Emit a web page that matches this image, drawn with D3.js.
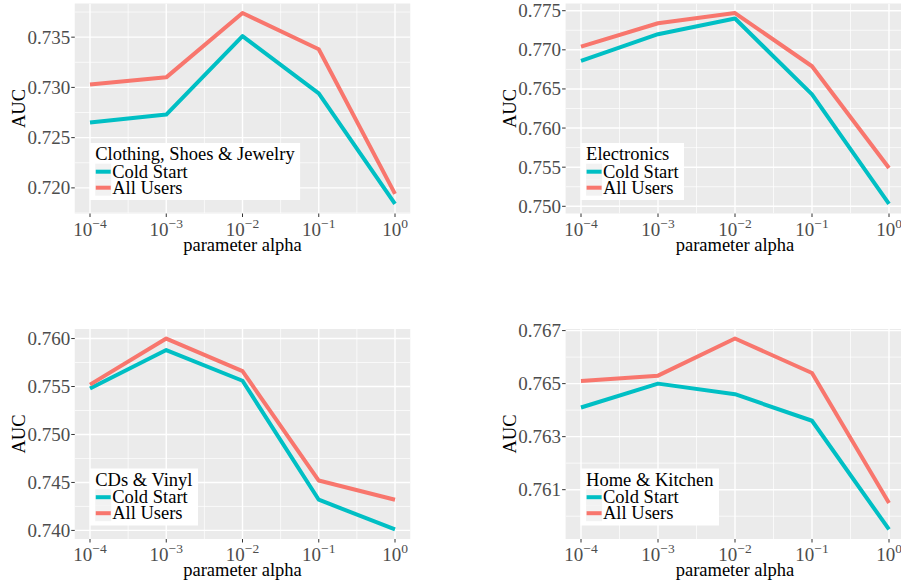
<!DOCTYPE html>
<html><head><meta charset="utf-8">
<script src="https://cdn.jsdelivr.net/npm/d3@7"></script>
<style>
body{margin:0;background:#fff}
svg{display:block}
text{font-family:"Liberation Serif","Times New Roman",serif}
</style></head><body>
<svg id="chart" width="901" height="586"></svg>
<script>
// Regularisation strength alpha (log scale) and its exponents for tick labels
const alphaValues = [1e-4, 1e-3, 1e-2, 1e-1, 1];
const alphaExponents = ["\u22124", "\u22123", "\u22122", "\u22121", "0"];

const seriesNames = ["Cold Start", "All Users"];
const seriesColors = ["#00BFC4", "#F8766D"];

const categories = ["Clothing, Shoes & Jewelry", "Electronics", "CDs & Vinyl", "Home & Kitchen"];

// AUC per category
const clothingCold = [0.7265, 0.7273, 0.7351, 0.7294, 0.7184];
const clothingAll  = [0.7303, 0.7310, 0.7374, 0.7338, 0.7194];
const electronicsCold = [0.7686, 0.7720, 0.7740, 0.7643, 0.7503];
const electronicsAll  = [0.7704, 0.7734, 0.7747, 0.7679, 0.7549];
const cdsCold = [0.7548, 0.7588, 0.7556, 0.7432, 0.7401];
const cdsAll  = [0.7552, 0.7600, 0.7566, 0.7452, 0.7432];
const homeCold = [0.7641, 0.7650, 0.7646, 0.7636, 0.7595];
const homeAll  = [0.7651, 0.7653, 0.7667, 0.7654, 0.7605];

// y-axis tick labels per category
const clothingTicks = [0.720, 0.725, 0.730, 0.735];
const electronicsTicks = [0.750, 0.755, 0.760, 0.765, 0.770, 0.775];
const cdsTicks = [0.740, 0.745, 0.750, 0.755, 0.760];
const homeTicks = [0.761, 0.763, 0.765, 0.767];

const panelData = [
  { title: categories[0], series: [clothingCold, clothingAll], ticks: clothingTicks },
  { title: categories[1], series: [electronicsCold, electronicsAll], ticks: electronicsTicks },
  { title: categories[2], series: [cdsCold, cdsAll], ticks: cdsTicks },
  { title: categories[3], series: [homeCold, homeAll], ticks: homeTicks }
];

// plotting-area frames for the 2x2 grid
const frames = [
  { x0: 74.75, x1: 410.25, y0: 3.5, y1: 213.5 },
  { x0: 565.6, x1: 904.4, y0: 3.5, y1: 213.5 },
  { x0: 74.75, x1: 410.25, y0: 329, y1: 539 },
  { x0: 565.6, x1: 904.4, y0: 329, y1: 539 }
];

const svg = d3.select("#chart");
const FS_TICK = 19, FS_TITLE = 18.5, FS_LEG = 18.5;

panelData.forEach((p, i) => {
  const f = frames[i];
  const g = svg.append("g");

  const x = d3.scaleLog().domain([Math.pow(10, -4.2), Math.pow(10, 0.2)]).range([f.x0, f.x1]);
  const all = p.series.flat();
  const lo = d3.min(all), hi = d3.max(all), pad = (hi - lo) * 0.05;
  const y = d3.scaleLinear().domain([lo - pad, hi + pad]).range([f.y1, f.y0]);

  // panel background
  g.append("rect").attr("x", f.x0).attr("y", f.y0)
    .attr("width", f.x1 - f.x0).attr("height", f.y1 - f.y0).attr("fill", "#EBEBEB");

  const clip = "clip" + i;
  g.append("clipPath").attr("id", clip).append("rect")
    .attr("x", f.x0).attr("y", f.y0).attr("width", f.x1 - f.x0).attr("height", f.y1 - f.y0);
  const inner = g.append("g").attr("clip-path", `url(#${clip})`);

  // minor grid
  const step = p.ticks[1] - p.ticks[0];
  const yMinor = [];
  for (let k = -1; k <= p.ticks.length; k++) {
    const v = p.ticks[0] + step * (k + 0.5);
    if (v > y.domain()[0] && v < y.domain()[1]) yMinor.push(v);
  }
  const xMinor = [-3.5, -2.5, -1.5, -0.5].map(e => Math.pow(10, e));
  inner.selectAll(".ymin").data(yMinor).join("line")
    .attr("x1", f.x0).attr("x2", f.x1).attr("y1", d => y(d)).attr("y2", d => y(d))
    .attr("stroke", "#fff").attr("stroke-width", 0.7);
  inner.selectAll(".xmin").data(xMinor).join("line")
    .attr("y1", f.y0).attr("y2", f.y1).attr("x1", d => x(d)).attr("x2", d => x(d))
    .attr("stroke", "#fff").attr("stroke-width", 0.7);

  // major grid
  inner.selectAll(".ymaj").data(p.ticks).join("line")
    .attr("x1", f.x0).attr("x2", f.x1).attr("y1", d => y(d)).attr("y2", d => y(d))
    .attr("stroke", "#fff").attr("stroke-width", 1.4);
  inner.selectAll(".xmaj").data(alphaValues).join("line")
    .attr("y1", f.y0).attr("y2", f.y1).attr("x1", d => x(d)).attr("x2", d => x(d))
    .attr("stroke", "#fff").attr("stroke-width", 1.4);

  // lines
  const line = d3.line().x((d, j) => x(alphaValues[j])).y(d => y(d));
  p.series.forEach((s, si) => {
    inner.append("path").attr("d", line(s)).attr("fill", "none")
      .attr("stroke", seriesColors[si]).attr("stroke-width", 4)
      .attr("stroke-linejoin", "round").attr("stroke-linecap", "butt");
  });

  // y axis ticks and labels
  p.ticks.forEach(t => {
    g.append("line").attr("x1", f.x0 - 3.5).attr("x2", f.x0).attr("y1", y(t)).attr("y2", y(t))
      .attr("stroke", "#333").attr("stroke-width", 1);
    g.append("text").attr("x", f.x0 - 4.5).attr("y", y(t) + 6.5)
      .attr("text-anchor", "end").attr("font-size", FS_TICK).attr("fill", "#4D4D4D")
      .text(d3.format(".3f")(t));
  });

  // x axis ticks and labels
  alphaValues.forEach((a, j) => {
    g.append("line").attr("x1", x(a)).attr("x2", x(a)).attr("y1", f.y1).attr("y2", f.y1 + 3.5)
      .attr("stroke", "#333").attr("stroke-width", 1);
    const t = g.append("text").attr("x", x(a)).attr("y", f.y1 + 22)
      .attr("text-anchor", "middle").attr("font-size", FS_TICK).attr("fill", "#4D4D4D");
    t.append("tspan").text("10");
    t.append("tspan").attr("dy", -8).attr("font-size", 13.5).text(alphaExponents[j]);
  });

  // axis titles
  g.append("text").attr("x", (f.x0 + f.x1) / 2).attr("y", f.y1 + 37)
    .attr("text-anchor", "middle").attr("font-size", FS_TITLE).attr("fill", "#000")
    .text("parameter alpha");
  g.append("text")
    .attr("transform", `translate(${f.x0 - 49.5},${(f.y0 + f.y1) / 2}) rotate(-90)`)
    .attr("text-anchor", "middle").attr("font-size", FS_TITLE).attr("fill", "#000")
    .text("AUC");

  // legend
  const lg = g.append("g");
  const lx = f.x0 + 15, ly = f.y1 - 13.5 - 57;
  const box = lg.append("rect").attr("x", lx).attr("y", ly).attr("height", 57).attr("fill", "#fff");
  const title = lg.append("text").attr("x", lx + 5.5).attr("y", ly + 17)
    .attr("font-size", FS_LEG).attr("fill", "#000").text(p.title);
  let wMax = title.node().getComputedTextLength() + 5.5;
  seriesNames.forEach((n, si) => {
    const cy = ly + 28.7 + si * 16;
    lg.append("rect").attr("x", lx + 5.5).attr("y", cy - 8).attr("width", 16).attr("height", 16)
      .attr("fill", "#F2F2F2");
    lg.append("line").attr("x1", lx + 6).attr("x2", lx + 21).attr("y1", cy).attr("y2", cy)
      .attr("stroke", seriesColors[si]).attr("stroke-width", 4);
    const lt = lg.append("text").attr("x", lx + 22.4).attr("y", cy + 6)
      .attr("font-size", FS_LEG).attr("fill", "#000").text(n);
    wMax = Math.max(wMax, 22.4 + lt.node().getComputedTextLength());
  });
  box.attr("width", wMax + 5.5);
});
</script>
</body></html>
